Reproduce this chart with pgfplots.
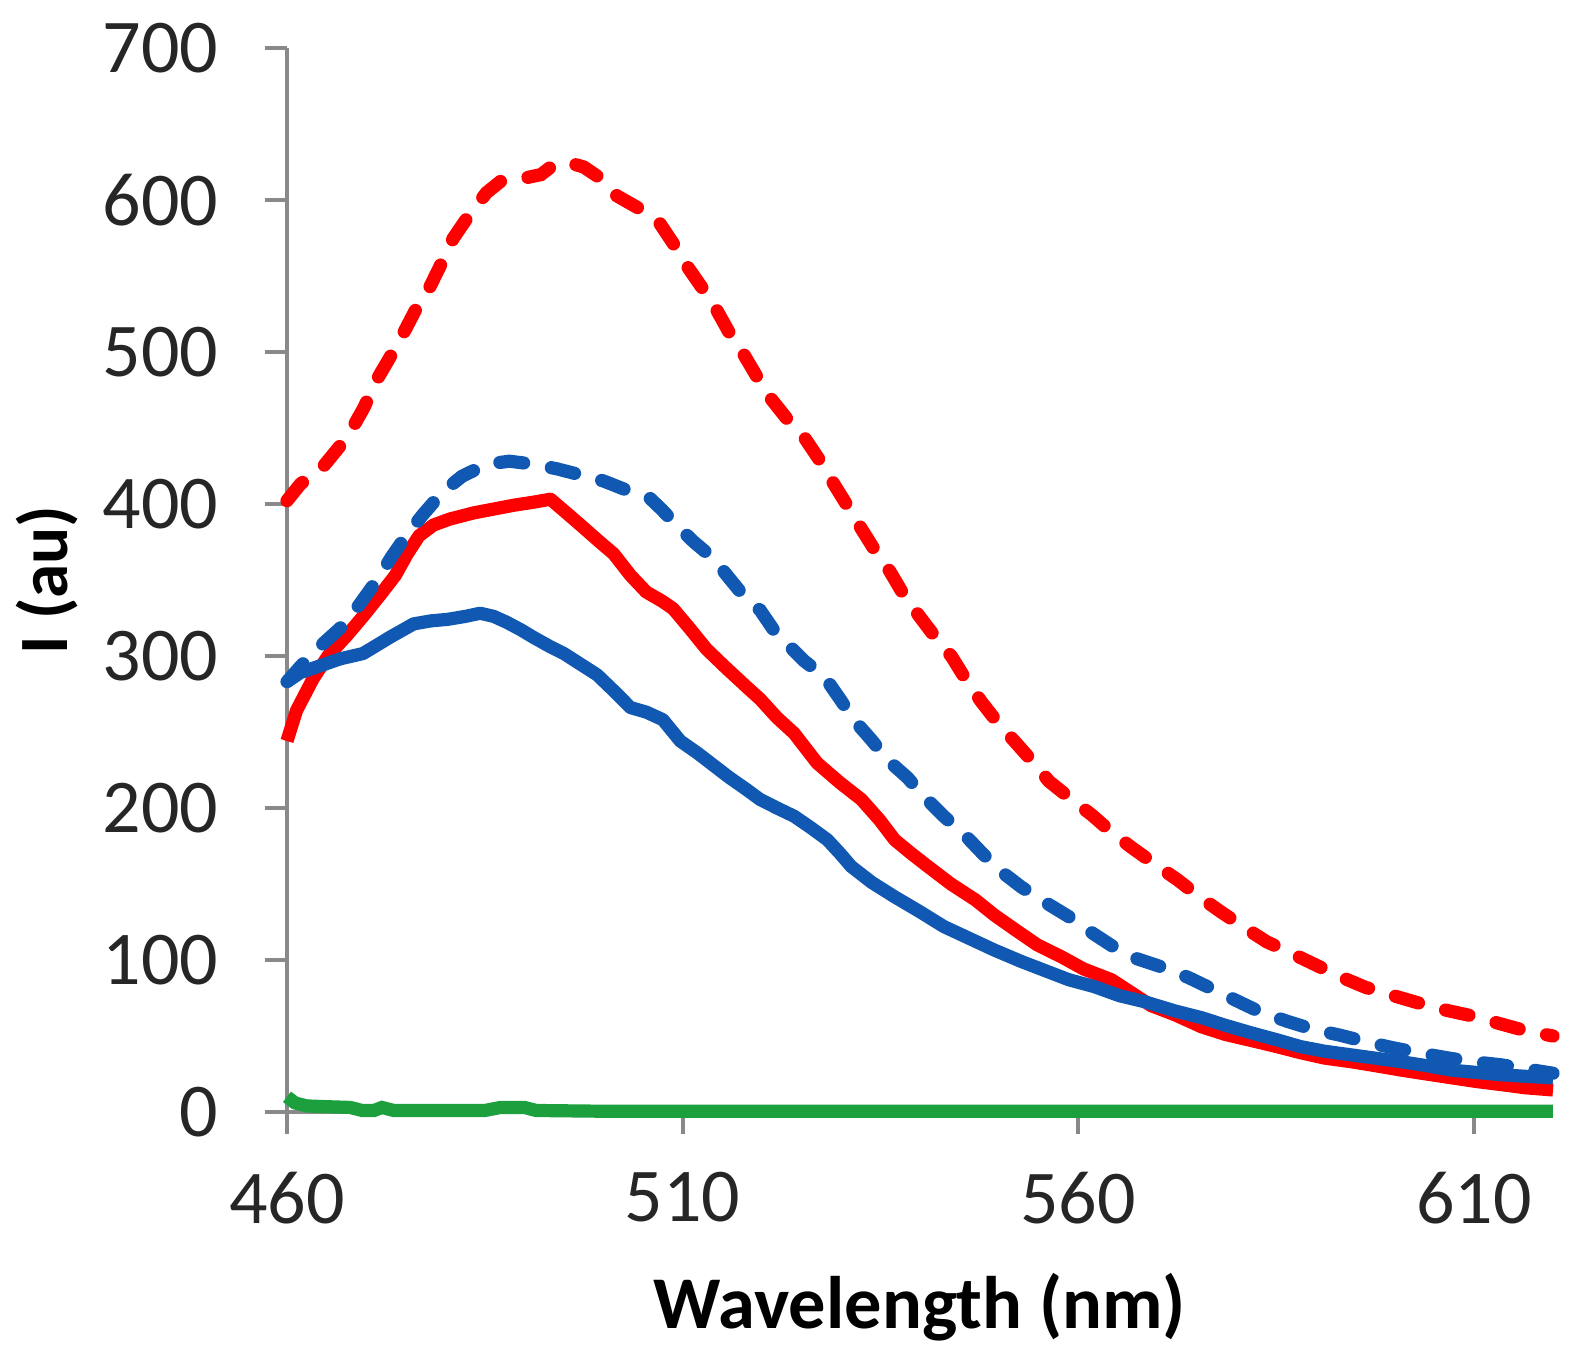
\documentclass[border=0pt]{standalone}
\usepackage{fontspec}
\setmainfont{Carlito}
\usepackage{pgfplots}
\pgfplotsset{compat=1.18}
\usetikzlibrary{calc}
\definecolor{myred}{RGB}{255,0,0}
\definecolor{myblue}{RGB}{16,88,178}
\definecolor{mygreen}{RGB}{28,160,62}
\definecolor{axgray}{RGB}{137,137,137}
\begin{document}
\begin{tikzpicture}
\begin{axis}[name=ax, scale only axis, width=316.5pt, height=266.1pt,
 xmin=460, xmax=620, ymin=0, ymax=700,
 axis lines=left, axis line style={-, axgray, line width=1pt},
 xtick={460,510,560,610}, ytick={0,100,...,700},
 tick align=outside, major tick length=5.6pt,
 tick style={axgray, line width=1pt},
 /pgf/number format/assume math mode=true,
 /pgf/number format/set thousands separator={},
 ticklabel style={font=\fontsize{19}{21}\selectfont, text=black!85, inner sep=0pt},
 yticklabel style={xshift=-11.4pt},
 xticklabel style={yshift=-9.2pt},
 xlabel={Wavelength (nm)}, ylabel={I (au)},
 label style={font=\bfseries\fontsize{18.6}{21}\selectfont},
 xlabel style={at={(axis description cs:0.5,-0.1832)}, anchor=center},
 ylabel style={at={(axis description cs:-0.18926,0.5)}, anchor=center, font=\bfseries\fontsize{17.3}{20}\selectfont},
 clip=false,
]
% green
\addplot[mygreen, line width=3.3pt] coordinates {
(460,10) (461,6) (462.5,4) (465,3.5) (468,3) (469.5,1) (471,1) (472,3) (473.5,1) (485,1) (487,3) (490,3) (491.5,1) (500,0.5) (620,0.5)};
% red solid
\addplot[myred, line width=3.3pt, line join=round] coordinates {
(460,244) (461.2,264) (463.3,285) (465.2,300) (467.5,313) (469.7,326.5) (471.7,339.5) (473.7,353) (475.2,367) (476.7,379) (478.5,386) (480.6,390) (483.6,394) (486.6,397) (488.6,399) (491.1,401) (493.3,403) (495.1,395) (497.1,386) (499.5,375) (501.3,367) (503.4,353) (505.4,342) (507.4,336) (508.8,331) (510.9,318) (513.0,304.5) (515.4,292.5) (518.1,279.5) (519.8,271.5) (521.9,259.5) (524.1,249) (527.0,229.5) (529.9,216.5) (532.6,205.5) (534.9,192) (536.8,179) (538.9,170) (541.0,161.5) (543.9,150) (547.0,139.5) (549.4,129.5) (552.0,120) (554.8,110) (557.9,102) (560.7,94) (564.2,87) (569.2,70) (572.2,64) (575.6,56) (578.6,51) (581.9,47) (585.1,43) (588.1,39) (591.1,35.5) (594.6,33) (598.1,30) (600.9,27.5) (604.0,25) (607.2,22.5) (610.4,20) (613.5,18) (616.4,16) (620,14.5)};
% blue solid
\addplot[myblue, line width=3.3pt, line join=round] coordinates {
(460,283) (461.7,289) (464.5,294) (466.7,298) (469.6,301.5) (471.2,306.5) (473.1,312.5) (476.0,321) (478.2,323) (480.3,324) (482.6,326) (484.4,328) (486.1,326) (487.8,322) (489.6,317) (491.2,312) (493.1,306.5) (495.0,301.5) (497.1,294.5) (499.2,287.5) (501.5,276) (503.4,266) (505.4,263) (507.5,258) (509.7,244) (511.9,236) (513.9,228) (515.9,220) (518.1,212) (519.8,205.5) (521.9,200) (524.1,194.5) (526.2,187) (528.3,179) (529.9,170) (531.3,161.5) (533.9,151) (536.8,141.5) (539.9,132) (543.0,122) (546.3,114) (549.4,106.5) (552.8,99) (555.8,93) (558.8,87) (562.0,82.5) (565.2,76.5) (568.4,72.5) (572.2,66.5) (575.6,62) (578.6,57) (581.9,52) (585.1,47.5) (588.1,43) (591.1,40) (594.6,37.5) (598.1,35) (600.9,33) (604.0,30.5) (607.2,27.5) (610.4,26) (613.5,24.5) (616.4,23.5) (620,22.5)};
% blue dashed
\addplot[myblue, line width=3.3pt, line cap=round, dash pattern=on 6pt off 7pt] coordinates {
(460,283) (461.7,293) (463.7,304) (465.4,312) (467.1,320) (469.2,334) (471.4,350) (473.2,365) (475.2,380) (477.2,393) (479.7,408) (482.1,418) (485.2,426) (488.1,428) (491.2,426) (494.1,423) (497.1,419) (500.0,415) (503.4,408) (505.8,404) (507.4,396) (509.2,386) (511.4,375) (513.9,364) (515.9,351) (518.1,337) (519.8,330) (521.9,314) (522.8,310) (525.4,296.5) (527.9,286.5) (529.9,271.5) (531.7,257.5) (533.9,244.5) (535.9,231.5) (538.4,220) (540.6,207) (542.9,195) (545.7,182) (547.9,170) (550.3,158) (552.8,148) (555.8,138) (558.8,128.5) (561.4,119) (564.2,109.5) (567.3,101) (570.2,96) (573.9,88.5) (577.1,80.5) (580.1,73) (583.1,65.5) (586.5,59.5) (589.6,54.5) (593.1,50.5) (596.5,46) (600.0,42) (603.5,38.5) (606.8,35.5) (610.0,33) (613.5,31) (616.4,28.5) (620,25.5)};
% red dashed
\addplot[myred, line width=3.3pt, line cap=round, dash pattern=on 6pt off 7pt] coordinates {
(460,402) (461.7,413) (464.5,424) (466.7,438) (468.4,451) (469.7,463) (471.4,482) (473.2,498) (474.7,512) (476.2,527) (478.0,542) (479.6,559) (481.0,574.5) (483.1,590.5) (485.2,604.5) (487.1,612.5) (490.3,614.5) (492.1,616.5) (493.6,622.5) (495.5,624.5) (497.5,621.5) (499.5,614.5) (501.7,602.5) (504.4,594.5) (507.1,584.5) (508.9,570.5) (510.4,557.5) (512.4,542.5) (514.3,527.5) (515.9,512.5) (517.7,498.5) (519.4,483.5) (521.1,469.5) (523.4,454.5) (525.4,443.5) (527.4,428) (529.0,414) (530.9,398) (532.6,383.5) (534.4,368.5) (536.2,355.5) (537.9,340.5) (540.0,325.5) (541.9,312.5) (544.0,299.5) (545.9,283.5) (547.8,269.5) (549.9,255.5) (552.0,243.5) (554.3,230) (556.3,217.5) (559.3,205) (561.8,195) (564.2,184) (567.0,173) (569.7,163) (572.6,152.5) (575.2,142) (578.2,131) (581.1,121) (583.8,112) (587.1,104) (590.1,96.5) (593.1,89) (596.3,82) (599.5,77) (602.8,72) (606.0,67.5) (609.5,63.5) (613.0,58.5) (616.5,53.5) (620,50)};
\end{axis}
\pgfresetboundingbox
\path ($(ax.south west)+(-71.75pt,-60.25pt)$) rectangle ($(ax.north east)+(6pt,11.9pt)$);
\end{tikzpicture}
\end{document}
